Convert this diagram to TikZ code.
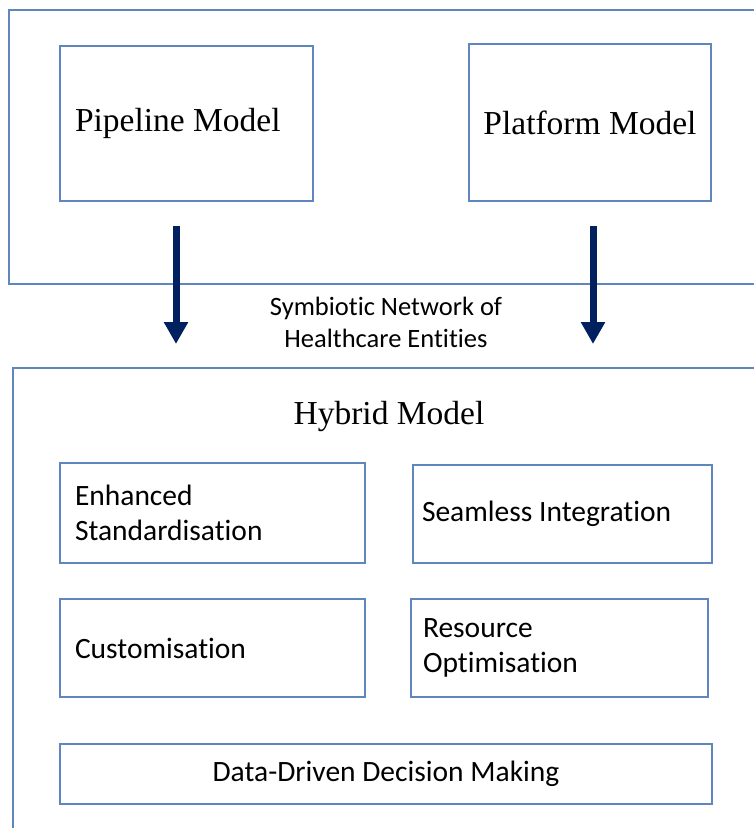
\documentclass[tikz,border=0pt]{standalone}
\usepackage{fontspec}
\setmainfont{Liberation Serif}
\newfontfamily\calibri[Ligatures=NoCommon]{Carlito}
\usetikzlibrary{arrows.meta}
\definecolor{frameblue}{RGB}{95,135,190}
\definecolor{arrownavy}{RGB}{0,32,96}

\begin{document}
\begin{tikzpicture}[x=1pt,y=-1pt,
  natural spaces/.style={execute at begin node={\spaceskip=0pt\xspaceskip=0pt\relax}},
  framebox/.style={draw=frameblue, line width=1.5pt},
  modelbox/.style={framebox, rectangle, inner ysep=0pt, natural spaces,
    font=\fontsize{33.5}{38}\selectfont},
  featbox/.style={framebox, rectangle, inner ysep=0pt, align=left, natural spaces,
    font=\calibri\fontsize{29.5}{35}\selectfont},
  flow/.style={arrownavy, line width=7pt,
    -{Triangle[width=23pt,length=22pt]}}
]
\useasboundingbox (0,0) rectangle (754,828);

% outer frames (open to the right / bottom)
\draw[framebox] (760,10) -| (9,284) -- (760,284);
\draw[framebox] (760,368) -| (13,835);

% the two source models
\node[modelbox, align=left, inner xsep=15pt, text width=223pt, minimum height=155pt]
  (pipeline) at (186.5,123.5) {Pipeline Model};
\node[modelbox, inner xsep=0pt, minimum width=242pt, minimum height=157pt]
  (platform) at (590,122.5) {Platform Model};

% flows into the hybrid model
\coordinate (pipeOut) at (176,226);
\coordinate (pipeIn)  at (176,344);
\coordinate (platOut) at (593,226);
\coordinate (platIn)  at (593,344);
\draw[flow] (pipeOut) -- (pipeIn);
\draw[flow] (platOut) -- (platIn);

\node[font=\calibri\fontsize{26.5}{32}\selectfont, align=center, natural spaces] (network) at (386,322)
  {Symbiotic Network of\\Healthcare Entities};

% hybrid model and its features
\node[font=\fontsize{33.5}{38}\selectfont] (hybrid) at (389,416) {Hybrid Model};

\node[featbox, inner xsep=15pt, text width=275pt, minimum height=100pt] (standard) at (212.5,513)
  {Enhanced\\Standardisation};
\node[featbox, inner xsep=9pt, text width=281pt, minimum height=98pt] (integration) at (562.5,514)
  {Seamless Integration};
\node[featbox, inner xsep=15pt, text width=275pt, minimum height=98pt] (custom) at (212.5,648)
  {Customisation};
\node[featbox, inner xsep=12pt, text width=273pt, minimum height=98pt] (resource) at (559.5,648)
  {Resource\\Optimisation};
\node[featbox, align=center, minimum width=652pt, minimum height=60pt] (data) at (386,774)
  {Data-Driven Decision Making};
\end{tikzpicture}
\end{document}
